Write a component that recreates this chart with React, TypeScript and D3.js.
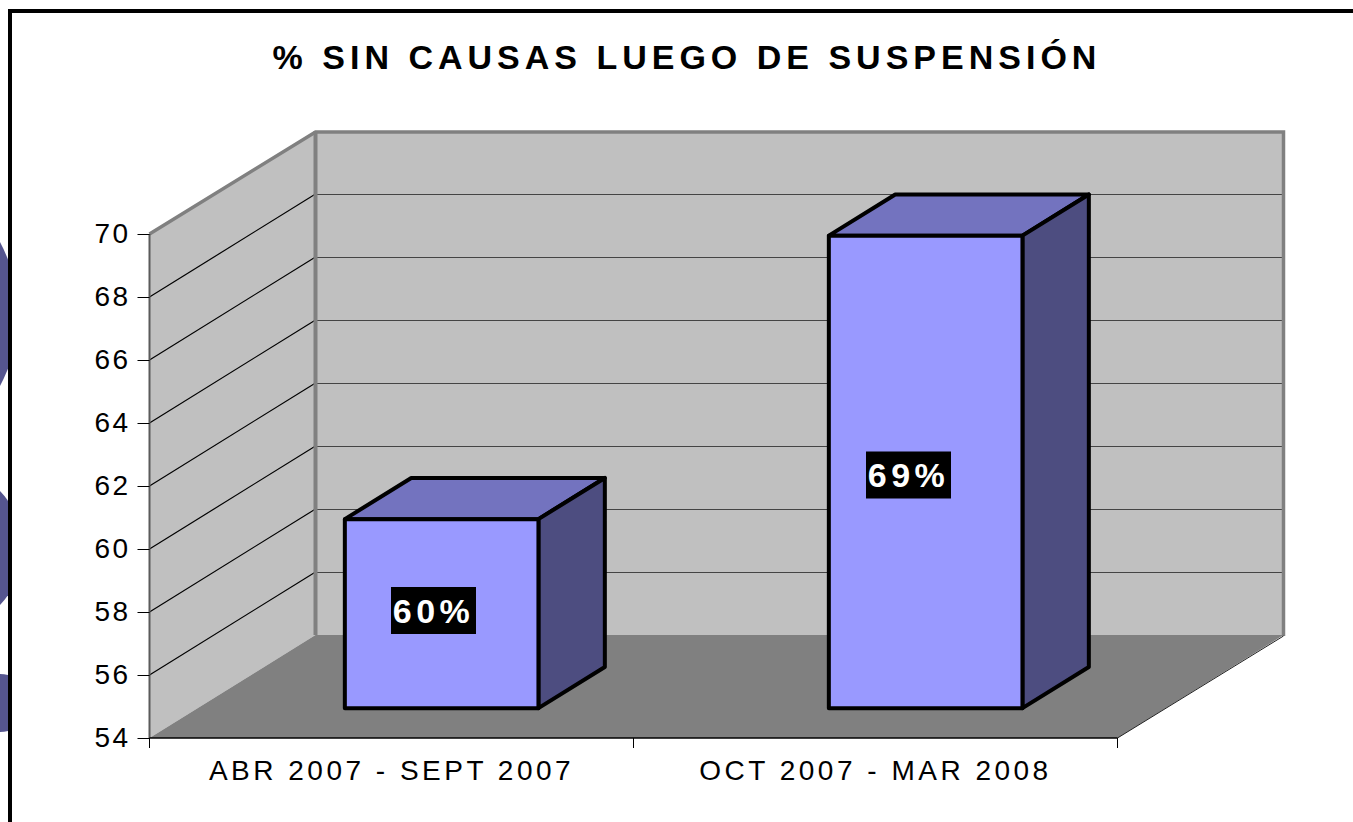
import React, { useEffect, useRef } from "react";
import * as d3 from "d3";

const title = "% SIN CAUSAS LUEGO DE SUSPENSIÓN";
const categories = ["ABR 2007 - SEPT 2007", "OCT 2007 - MAR 2008"];
const values = [60, 69];
const valueLabels = ["60%", "69%"];
const yTicks = [54, 56, 58, 60, 62, 64, 66, 68, 70];

const FONT = "'Liberation Sans', Arial, sans-serif";
const depthX = 166;
const depthY = 103;
const barFront = 0.29;
const barBack = 0.69;

export default function App() {
  const ref = useRef<SVGSVGElement>(null);

  useEffect(() => {
    const svg = d3.select(ref.current);
    svg.selectAll("*").remove();

    const x = d3.scaleBand().domain(categories).range([149.5, 1117.5]).paddingInner(0).paddingOuter(0);
    const y = d3.scaleLinear().domain([54, 70]).range([738, 234]);

    // point in the 3d box: t is how far back it sits
    const px = (v: number, t: number) => v + t * depthX;
    const py = (v: number, t: number) => y(v) - t * depthY;
    const poly = (pts: number[][]) => pts.map((p) => p.join(",")).join(" ");

    const [x0, x1] = x.range();
    const [v0, v1] = y.domain();

    // blue shapes of the slide behind the chart
    svg.append("clipPath").attr("id", "leftEdge").append("rect").attr("width", 8).attr("height", 822);
    svg.append("g").attr("clip-path", "url(#leftEdge)")
      .selectAll("circle")
      .data([[-135, 314, 153], [-59, 548, 82], [0, 703, 29]])
      .join("circle")
      .attr("cx", (d) => d[0]).attr("cy", (d) => d[1]).attr("r", (d) => d[2])
      .attr("fill", "#55558f");

    // frame runs off the page on the right and at the bottom
    svg.append("path").attr("d", "M10,830V11H1360").attr("fill", "none").attr("stroke", "#000").attr("stroke-width", 4);

    svg.append("text").attr("x", 687).attr("y", 68.5)
      .attr("text-anchor", "middle")
      .style("font", `bold 34px ${FONT}`).style("letter-spacing", "5px")
      .text(title);

    // walls and floor
    svg.append("polygon")
      .attr("points", poly([[px(x0, 0), py(v1, 0)], [px(x0, 1), py(v1, 1)], [px(x0, 1), py(v0, 1)], [px(x0, 0), py(v0, 0)]]))
      .attr("fill", "#c0c0c0");
    svg.append("polygon")
      .attr("points", poly([[px(x0, 1), py(v1, 1)], [px(x1, 1), py(v1, 1)], [px(x1, 1), py(v0, 1)], [px(x0, 1), py(v0, 1)]]))
      .attr("fill", "#c0c0c0");
    svg.append("polygon")
      .attr("points", poly([[px(x0, 0), py(v0, 0)], [px(x0, 1), py(v0, 1)], [px(x1, 1), py(v0, 1)], [px(x1, 0), py(v0, 0)]]))
      .attr("fill", "#808080");

    // gridlines
    const inner = yTicks.slice(1, -1);
    svg.append("g").selectAll("line").data(inner).join("line")
      .attr("x1", px(x0, 0)).attr("x2", px(x0, 1))
      .attr("y1", (d) => py(d, 0)).attr("y2", (d) => py(d, 1))
      .attr("stroke", "#000").attr("stroke-width", 1.2);
    svg.append("g").selectAll("line").data(inner).join("line")
      .attr("x1", px(x0, 1)).attr("x2", px(x1, 1))
      .attr("y1", (d) => py(d, 1) + 0.5).attr("y2", (d) => py(d, 1) + 0.5)
      .attr("stroke", "#444").attr("stroke-width", 1.2);

    // wall outline
    svg.append("path")
      .attr("d", `M${px(x0, 0)},${py(v1, 0)}L${px(x0, 1)},${py(v1, 1) + 1}H${px(x1, 1)}V${py(v0, 1) + 1}`)
      .attr("fill", "none").attr("stroke", "#808080").attr("stroke-width", 3.5);
    svg.append("line")
      .attr("x1", px(x0, 1)).attr("x2", px(x0, 1)).attr("y1", py(v1, 1)).attr("y2", py(v0, 1))
      .attr("stroke", "#808080").attr("stroke-width", 4);
    svg.append("line")
      .attr("x1", px(x0, 0)).attr("x2", px(x0, 0)).attr("y1", py(v1, 0)).attr("y2", py(v0, 0))
      .attr("stroke", "#5a5a5a").attr("stroke-width", 2);
    svg.append("line")
      .attr("x1", px(x1, 0)).attr("x2", px(x1, 1)).attr("y1", py(v0, 0)).attr("y2", py(v0, 1) + 1)
      .attr("stroke", "#222").attr("stroke-width", 1);
    svg.append("line")
      .attr("x1", x0).attr("x2", x1).attr("y1", y(v0)).attr("y2", y(v0))
      .attr("stroke", "#000").attr("stroke-width", 1.5);

    // axes
    const yAxis = svg.append("g")
      .attr("transform", `translate(${x0},0)`)
      .call(d3.axisLeft(y).tickValues(yTicks).tickSize(12).tickPadding(7));
    yAxis.select(".domain").remove();

    const xAxis = svg.append("g")
      .attr("transform", `translate(0,${y(v0)})`)
      .call(d3.axisBottom(x).tickSize(0).tickPadding(22));
    xAxis.select(".domain").remove();
    xAxis.selectAll(".tick line").remove();

    svg.append("g").selectAll("line")
      .data([0, 1, 2])
      .join("line")
      .attr("x1", (i) => x0 + i * x.step()).attr("x2", (i) => x0 + i * x.step())
      .attr("y1", y(v0)).attr("y2", y(v0) + 10)
      .attr("stroke", "#000").attr("stroke-width", 1);

    svg.selectAll(".tick line").attr("stroke", "#000");
    yAxis.selectAll(".tick text")
      .attr("fill", "#000")
      .style("font", `28px ${FONT}`)
      .style("letter-spacing", "2.4px");
    xAxis.selectAll(".tick text")
      .attr("fill", "#000")
      .style("font", `28px ${FONT}`)
      .style("letter-spacing", "3.5px");

    // bars
    const barWidth = x.bandwidth() / 2.5;
    categories.forEach((c, i) => {
      const left = (x(c) as number) + (x.bandwidth() - barWidth) / 2 + 2;
      const right = left + barWidth;
      const v = values[i];
      const g = svg.append("g").attr("stroke", "#000").attr("stroke-width", 4).attr("stroke-linejoin", "round");
      g.append("polygon")
        .attr("points", poly([[px(left, barFront), py(v, barFront)], [px(left, barBack), py(v, barBack)], [px(right, barBack), py(v, barBack)], [px(right, barFront), py(v, barFront)]]))
        .attr("fill", "#7373bf");
      g.append("polygon")
        .attr("points", poly([[px(right, barFront), py(v, barFront)], [px(right, barBack), py(v, barBack)], [px(right, barBack), py(v0, barBack)], [px(right, barFront), py(v0, barFront)]]))
        .attr("fill", "#4d4d80");
      g.append("rect")
        .attr("x", px(left, barFront)).attr("y", py(v, barFront))
        .attr("width", barWidth).attr("height", py(v0, barFront) - py(v, barFront))
        .attr("fill", "#9999ff");
    });

    // value labels, white on black boxes
    const labelX = [433.5, 908.5];
    const labelY = [610.5, 475];
    valueLabels.forEach((t, i) => {
      svg.append("rect")
        .attr("x", labelX[i] - 42.5).attr("y", labelY[i] - 23.5)
        .attr("width", 85).attr("height", 47)
        .attr("fill", "#000");
      svg.append("text")
        .attr("x", labelX[i]).attr("y", labelY[i] + 12)
        .attr("text-anchor", "middle")
        .attr("fill", "#fff")
        .style("font", `bold 34px ${FONT}`).style("letter-spacing", "4.5px")
        .text(t);
    });
  }, []);

  return <svg ref={ref} width={1353} height={822} style={{ position: "absolute", left: 0, top: 0, background: "#fff" }} />;
}
